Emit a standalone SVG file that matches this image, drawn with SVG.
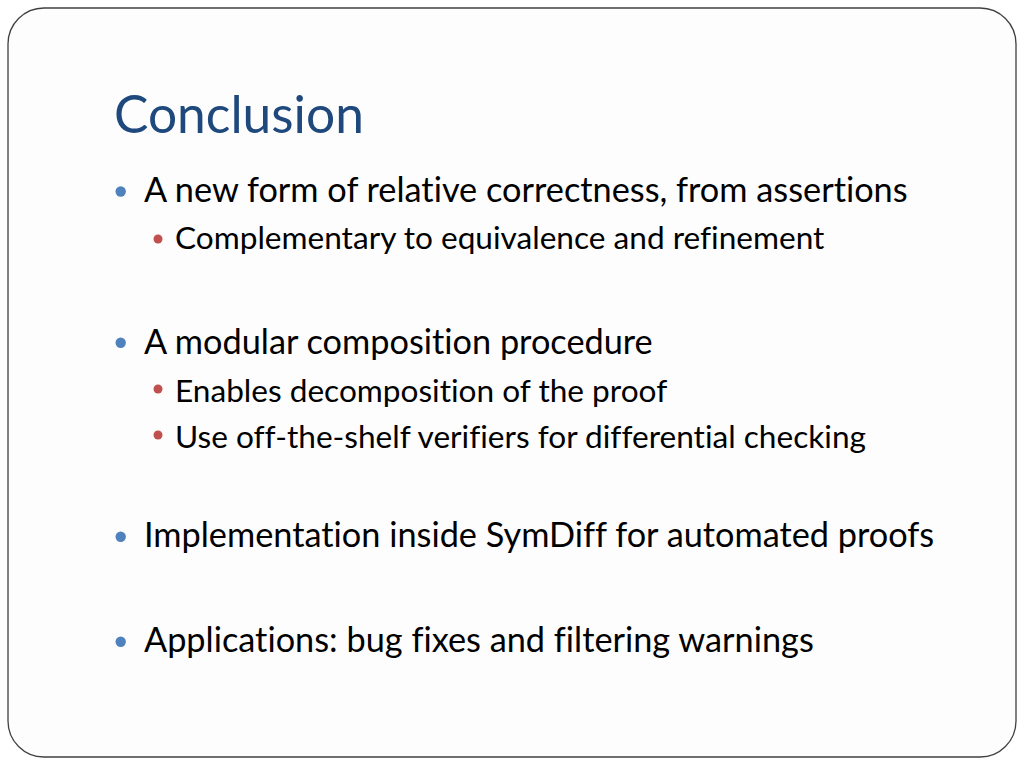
<svg xmlns="http://www.w3.org/2000/svg" width="1024" height="768" viewBox="0 0 1024 768">
<style>
text{font-variant-ligatures:none;font-feature-settings:"liga" 0,"clig" 0}
.title{font-family:Lato,"Open Sans",sans-serif;font-size:51.5px;fill:#1f497d}
.l1{font-family:Lato,"Open Sans",sans-serif;font-size:34.3px;fill:#000}
.l2{font-family:Lato,"Open Sans",sans-serif;font-size:31.6px;fill:#000}
.b1{fill:#4f81bd}
.b2{fill:#c0504d}
</style>
<rect x="0" y="0" width="1024" height="768" fill="#ffffff"/>
<rect id="frame" x="8" y="8" width="1008" height="749" rx="36" ry="36" fill="#fdfdfd" stroke="#404040" stroke-width="1.3"/>
<g id="title"><text class="title" x="114" y="133">Conclusion</text></g>
<g id="item1">
<circle class="b1" cx="120.7" cy="191.5" r="5.2"/>
<text class="l1" x="144" y="201.5">A new form of relative correctness, from assertions</text>
</g>
<g id="item1a">
<circle class="b2" cx="158" cy="239" r="4.5"/>
<text class="l2" x="175" y="248.5">Complementary to equivalence and refinement</text>
</g>
<g id="item2">
<circle class="b1" cx="120.7" cy="342.7" r="5.2"/>
<text class="l1" x="144" y="353.5">A modular composition procedure</text>
</g>
<g id="item2a">
<circle class="b2" cx="158" cy="389" r="4.5"/>
<text class="l2" x="175" y="401.5">Enables decomposition of the proof</text>
</g>
<g id="item2b">
<circle class="b2" cx="158" cy="435" r="4.5"/>
<text class="l2" x="175" y="448">Use off-the-shelf verifiers for differential checking</text>
</g>
<g id="item3">
<circle class="b1" cx="120.7" cy="536.7" r="5.2"/>
<text class="l1" x="144" y="547">Implementation inside SymDiff for automated proofs</text>
</g>
<g id="item4">
<circle class="b1" cx="120.7" cy="641.7" r="5.2"/>
<text class="l1" x="144" y="652">Applications: bug fixes and filtering warnings</text>
</g>
</svg>
